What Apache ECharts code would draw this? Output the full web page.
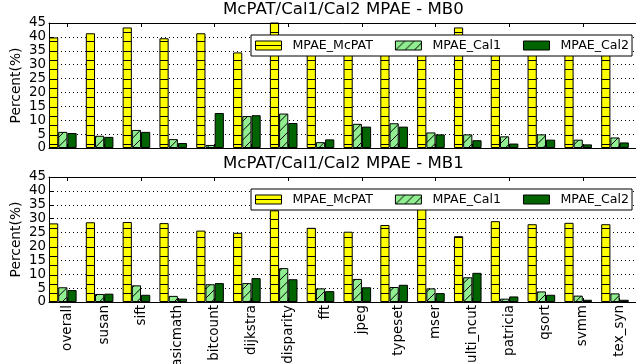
<!DOCTYPE html>
<html>
<head>
<meta charset="utf-8">
<script src="https://cdn.jsdelivr.net/npm/echarts@6/dist/echarts.min.js"></script>
<style>
  html, body { margin: 0; padding: 0; background: #fff; }
  #chart { width: 636px; height: 364px; }
</style>
</head>
<body>
<div id="chart"></div>
<script>
// Benchmarks along the x axis
const categories = ['overall', 'susan', 'sift', 'basicmath', 'bitcount', 'dijkstra', 'disparity', 'fft',
  'jpeg', 'typeset', 'mser', 'multi_ncut', 'patricia', 'qsort', 'svmm', 'tex_syn'];

// MB0 mean percentage absolute error (%)
const mb0McPAT = [39.8, 41.3, 43.4, 39.5, 41.3, 34.4, 47.5, 37, 36, 35, 38, 43.4, 34, 36, 37, 35];
const mb0Cal1 = [5.8, 4.4, 6.5, 3.2, 1.1, 11.5, 12.4, 2.1, 8.7, 8.9, 5.6, 4.9, 4.2, 4.9, 3.0, 3.8];
const mb0Cal2 = [5.4, 4.0, 5.8, 1.8, 12.6, 11.8, 9.0, 3.1, 7.7, 7.7, 4.9, 2.8, 1.6, 3.0, 1.3, 2.0];

// MB1 mean percentage absolute error (%)
const mb1McPAT = [28.3, 28.7, 28.8, 28.4, 25.7, 24.9, 33, 26.7, 25.3, 27.7, 34, 23.7, 29.1, 28.0, 28.5, 28.0];
const mb1Cal1 = [5.3, 2.9, 6.0, 2.2, 6.4, 6.8, 12.2, 4.9, 8.3, 5.4, 4.9, 8.9, 1.2, 3.8, 2.3, 3.1];
const mb1Cal2 = [4.3, 3.0, 2.6, 1.2, 6.8, 8.6, 8.2, 3.9, 5.3, 6.2, 3.2, 10.5, 2.0, 2.6, 0.8, 0.8];

const seriesNames = ['MPAE_McPAT', 'MPAE_Cal1', 'MPAE_Cal2'];
const panelTitles = ['McPAT/Cal1/Cal2 MPAE - MB0', 'McPAT/Cal1/Cal2 MPAE - MB1'];
const yTicks = { min: 0, max: 45, step: 5 };

const FONT = 'DejaVu Sans';

// Hatched fills: horizontal lines ('-') and forward diagonals ('/')
function hatchTile(base, kind) {
  const size = 28;
  const c = document.createElement('canvas');
  c.width = size; c.height = size;
  const g = c.getContext('2d');
  g.fillStyle = base;
  g.fillRect(0, 0, size, size);
  g.strokeStyle = '#000';
  g.lineWidth = 1;
  g.beginPath();
  const step = size / 3;
  if (kind === 'h') {
    [4.5, 13.5, 23.5].forEach(y => { g.moveTo(0, y); g.lineTo(size, y); });
  } else {
    for (let k = 0; k <= 6; k++) {
      const cc = k * step;
      g.moveTo(cc + 6, -6);
      g.lineTo(cc - size - 6, size + 6);
    }
  }
  g.stroke();
  return c;
}

const yellowFill = { image: hatchTile('#ffff00', 'h'), repeat: 'repeat' };
const lightFill = { image: hatchTile('#90ee90', 'd'), repeat: 'repeat' };
const darkFill = '#006400';

const panels = [
  { top: 23, values: [mb0McPAT, mb0Cal1, mb0Cal2] },
  { top: 177, values: [mb1McPAT, mb1Cal1, mb1Cal2] }
];
const plotLeft = 49, plotWidth = 589, plotHeight = 125;

const grids = [], xAxes = [], yAxes = [], series = [], titles = [], legends = [];

panels.forEach((p, i) => {
  grids.push({
    left: plotLeft, top: p.top, width: plotWidth, height: plotHeight,
    containLabel: false, outerBoundsMode: 'none'
  });

  // bottom category axis
  xAxes.push({
    type: 'category', gridIndex: i, position: 'bottom', data: categories,
    boundaryGap: true,
    axisLine: { show: true, lineStyle: { color: '#000', width: 1 } },
    axisTick: { show: true, inside: true, alignWithLabel: true, length: 4, lineStyle: { color: '#000' } },
    axisLabel: {
      show: i === 1, interval: 0, rotate: 90, margin: 3, hideOverlap: false,
      fontFamily: FONT, fontSize: 13.5, color: '#000'
    },
    splitLine: { show: false }
  });
  // top mirror axis with inward ticks
  xAxes.push({
    type: 'category', gridIndex: i, position: 'top', data: categories,
    boundaryGap: true,
    axisLine: { show: true, lineStyle: { color: '#000', width: 1 } },
    axisTick: { show: true, inside: true, alignWithLabel: true, length: 4, lineStyle: { color: '#000' } },
    axisLabel: { show: false },
    splitLine: { show: false }
  });

  yAxes.push({
    type: 'value', gridIndex: i, position: 'left',
    min: yTicks.min, max: yTicks.max, interval: yTicks.step,
    name: 'Percent(%)', nameLocation: 'middle', nameGap: 26, nameRotate: 90,
    nameMoveOverlap: false,
    nameTextStyle: { fontFamily: FONT, fontSize: 13.8, color: '#000' },
    axisLine: { show: true, lineStyle: { color: '#000', width: 1 } },
    axisTick: { show: true, inside: true, length: 4, lineStyle: { color: '#000' } },
    axisLabel: {
      margin: 3, showMinLabel: true, showMaxLabel: true, hideOverlap: false,
      fontFamily: FONT, fontSize: 13.4, color: '#000'
    },
    splitLine: { show: true, lineStyle: { color: '#000', width: 1, type: [1, 3] } }
  });

  const fills = [yellowFill, lightFill, darkFill];
  seriesNames.forEach((name, s) => {
    series.push({
      type: 'bar', name: name, xAxisIndex: i * 2, yAxisIndex: i,
      data: p.values[s],
      barGap: '0%', barCategoryGap: '0%',
      itemStyle: { color: fills[s], borderColor: '#000', borderWidth: 1 },
      emphasis: { disabled: true },
      clip: true
    });
  });
  // empty slot so each group of three bars starts at the left edge of its band
  series.push({
    type: 'bar', name: 'spacer', xAxisIndex: i * 2, yAxisIndex: i,
    data: categories.map(() => null),
    barGap: '0%', barCategoryGap: '0%', silent: true,
    itemStyle: { color: 'rgba(0,0,0,0)' }
  });

  titles.push({
    text: panelTitles[i], left: 223, top: i === 0 ? 1 : 155, padding: 0,
    textStyle: { fontFamily: FONT, fontSize: 16.6, fontWeight: 'normal', color: '#000' }
  });

  legends.push({
    data: seriesNames, left: 251, top: p.top + 12,
    orient: 'horizontal', icon: 'rect',
    itemWidth: 26, itemHeight: 9, itemGap: 22,
    padding: [4, 3, 4, 4],
    borderColor: '#000', borderWidth: 1, borderRadius: 0, backgroundColor: '#fff',
    selectedMode: false,
    itemStyle: { borderColor: '#000', borderWidth: 1 },
    textStyle: { fontFamily: FONT, fontSize: 12.6, color: '#000', padding: [0, 0, 0, 6] }
  });
});

const chart = echarts.init(document.getElementById('chart'), null, { renderer: 'canvas' });
chart.setOption({
  animation: false,
  backgroundColor: '#fff',
  title: titles,
  legend: legends,
  grid: grids,
  xAxis: xAxes,
  yAxis: yAxes,
  series: series
});
</script>
</body>
</html>
